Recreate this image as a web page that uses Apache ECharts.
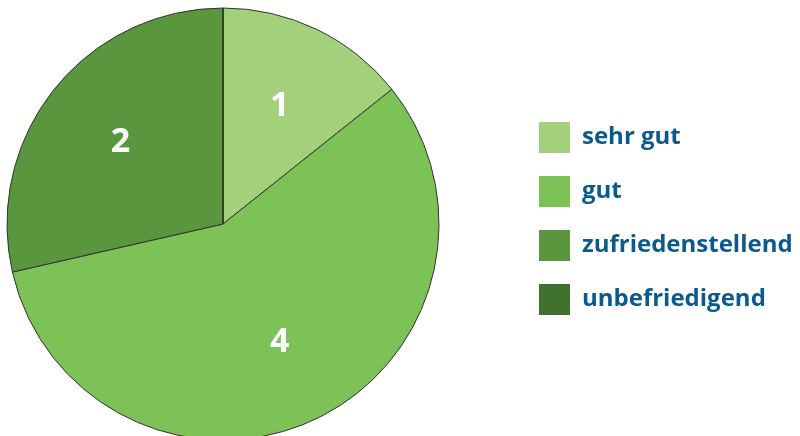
<!DOCTYPE html>
<html><head><meta charset="utf-8">
<script src="https://cdn.jsdelivr.net/npm/echarts@6/dist/echarts.min.js"></script>
<style>html,body{margin:0;padding:0;background:#fff}#c{width:800px;height:436px}</style>
</head><body><div id="c"></div>
<script>
const categories = ['sehr gut', 'gut', 'zufriedenstellend', 'unbefriedigend'];
const values = [1, 4, 2, 0];
const colors = ['#a3d07a', '#7dc257', '#5a963e', '#41722d'];

const chart = echarts.init(document.getElementById('c'), null, {renderer: 'canvas'});
const data = categories.map((n, i) => ({name: n, value: values[i], itemStyle: {color: colors[i]}}));
chart.setOption({
  animation: false,
  legend: {
    orient: 'vertical', left: 534, top: 117,
    itemWidth: 31, itemHeight: 31, itemGap: 23,
    icon: 'rect',
    itemStyle: {borderWidth: 0},
    data: categories,
    textStyle: {color: '#0b5a8e', fontSize: 24, fontWeight: 'bold', fontFamily: 'Open Sans', padding: [0, 0, 0, 7]}
  },
  series: [{
    type: 'pie', center: [223, 224], radius: [0, 216],
    startAngle: 90, clockwise: true,
    itemStyle: {borderColor: '#333', borderWidth: 1},
    label: {show: false}, labelLine: {show: false},
    emphasis: {disabled: true},
    data: data
  }, {
    type: 'pie', center: [223, 224], radius: [40, 216],
    startAngle: 90, clockwise: true, silent: true,
    itemStyle: {color: 'rgba(0,0,0,0)', borderWidth: 0},
    label: {show: true, position: 'inside', color: '#fff', fontSize: 34, fontWeight: 'bold', fontFamily: 'Open Sans',
      formatter: p => p.value ? String(p.value) : ''},
    labelLine: {show: false},
    legendHoverLink: false,
    data: categories.map((n, i) => ({name: n + ' ', value: values[i]}))
  }]
});
</script></body></html>
